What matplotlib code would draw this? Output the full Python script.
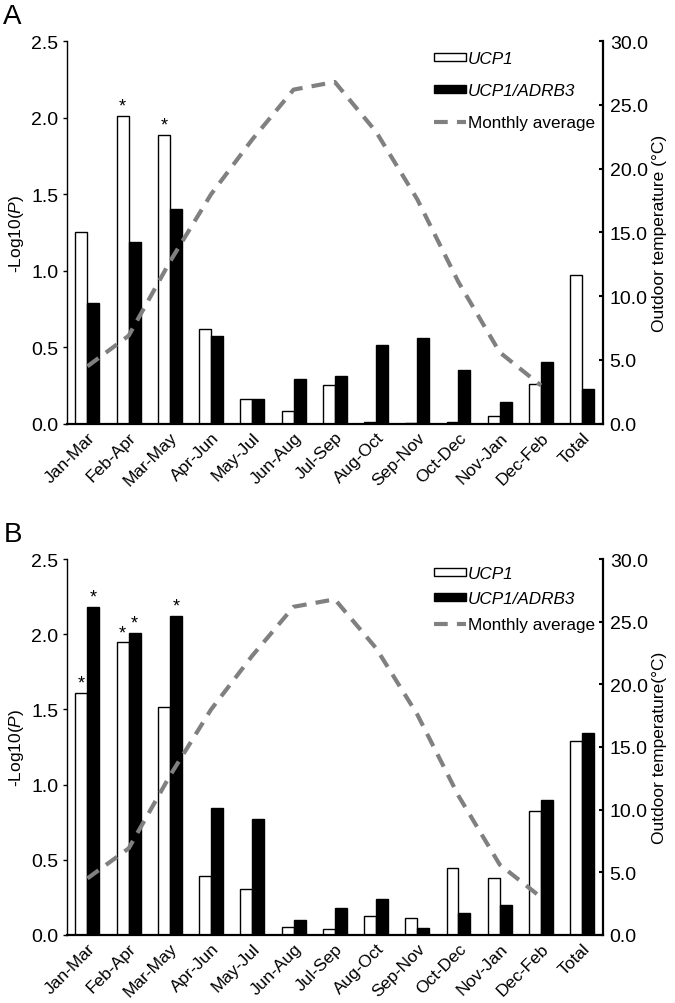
import matplotlib
matplotlib.use("Agg")
import matplotlib.pyplot as plt
import matplotlib.transforms as mtransforms
from matplotlib.patches import Rectangle
from matplotlib.lines import Line2D
import numpy as np

plt.rcParams['font.family'] = ['Liberation Sans', 'DejaVu Sans']
plt.rcParams['mathtext.fontset'] = 'custom'
plt.rcParams['mathtext.rm'] = 'Liberation Sans'
plt.rcParams['mathtext.it'] = 'Liberation Sans:italic'

categories = ["Jan-Mar", "Feb-Apr", "Mar-May", "Apr-Jun", "May-Jul", "Jun-Aug",
              "Jul-Sep", "Aug-Oct", "Sep-Nov", "Oct-Dec", "Nov-Jan", "Dec-Feb", "Total"]

# monthly average outdoor temperature (no value for "Total")
temperature = [4.5, 6.9, 12.7, 18.0, 22.3, 26.2, 26.8, 22.9, 17.6, 11.1, 5.6, 3.0]

# panel A
ucp1_a = [1.25, 2.01, 1.89, 0.62, 0.16, 0.083, 0.25, 0.01, 0.003, 0.01, 0.048, 0.26, 0.97]
ratio_a = [0.79, 1.19, 1.40, 0.57, 0.16, 0.29, 0.31, 0.515, 0.563, 0.35, 0.143, 0.40, 0.224]
star_ucp1_a = [1, 2]
star_ratio_a = []

# panel B
ucp1_b = [1.61, 1.946, 1.518, 0.39, 0.306, 0.05, 0.035, 0.128, 0.11, 0.445, 0.381, 0.824, 1.292]
ratio_b = [2.18, 2.008, 2.12, 0.844, 0.771, 0.098, 0.18, 0.237, 0.047, 0.142, 0.20, 0.90, 1.345]
star_ucp1_b = [0, 1]
star_ratio_b = [0, 1, 2]

left_ticks = [0.0, 0.5, 1.0, 1.5, 2.0, 2.5]
right_ticks = [0.0, 5.0, 10.0, 15.0, 20.0, 25.0, 30.0]

fig = plt.figure(figsize=(6.75, 10.04), dpi=100)


def draw_panel(rect, letter, ucp1, ratio, star_u, star_r, right_label, legend_spacing, legend_top):
    ax = fig.add_axes(rect)
    x = np.arange(len(categories))
    w = 0.29
    ax.bar(x - w / 2, ucp1, w, color='white', edgecolor='black', linewidth=1.0)
    ax.bar(x + w / 2, ratio, w, color='black', edgecolor='black', linewidth=1.0)

    for i in star_u:
        ax.annotate("*", (x[i] - w / 2, ucp1[i]), xytext=(0, 1), textcoords='offset points',
                    ha='center', va='bottom', fontsize=13)
    for i in star_r:
        ax.annotate("*", (x[i] + w / 2, ratio[i]), xytext=(0, 1), textcoords='offset points',
                    ha='center', va='bottom', fontsize=13)

    ax.set_xlim(-0.5, len(categories) - 0.5)
    ax.set_ylim(0, 2.5)
    ax.set_yticks(left_ticks)
    ax.set_yticklabels([f"{t:.1f}" for t in left_ticks], fontsize=14)
    ax.set_xticks(x)
    ax.set_xticklabels(categories, rotation=45, ha='right', va='top',
                       rotation_mode='anchor', fontsize=12.5)
    offset = mtransforms.ScaledTranslation(6 / 72, 0, fig.dpi_scale_trans)
    for lab in ax.get_xticklabels():
        lab.set_transform(lab.get_transform() + offset)
    ax.tick_params(axis='x', length=0, pad=4)
    ax.tick_params(axis='y', length=3, width=1, direction='out', pad=3)
    ax.spines['top'].set_visible(False)
    ax.spines['right'].set_visible(False)
    ax.spines['left'].set_linewidth(1.0)
    ax.spines['bottom'].set_linewidth(1.6)
    ax.set_ylabel("-Log10($\\it{P}$)", fontsize=12.5, labelpad=4)

    ax2 = ax.twinx()
    ax2.plot(x[:len(temperature)], temperature, color='#808080', linewidth=3,
             dashes=(3.3, 2.2))
    ax2.set_ylim(0, 30)
    ax2.set_yticks(right_ticks)
    ax2.set_yticklabels([f"{t:.1f}" for t in right_ticks], fontsize=14)
    ax2.tick_params(axis='y', length=3, width=1.5, direction='in', pad=5)
    ax2.spines['top'].set_visible(False)
    ax2.spines['left'].set_visible(False)
    ax2.spines['bottom'].set_visible(False)
    ax2.spines['right'].set_linewidth(1.6)
    ax2.set_ylabel(right_label, fontsize=12.5, labelpad=3)

    handles = [Rectangle((0, 0), 1, 1, facecolor='white', edgecolor='black', linewidth=1.0),
               Rectangle((0, 0), 1, 1, facecolor='black', edgecolor='black', linewidth=1.0),
               Line2D([], [], color='#808080', linewidth=3, dashes=(3.3, 2.2))]
    labels = ["UCP1", "UCP1/ADRB3", "Monthly average"]
    leg = ax2.legend(handles, labels, loc='upper right', bbox_to_anchor=(1.005, legend_top),
                     frameon=False, fontsize=12.3, handlelength=1.85, handleheight=0.35,
                     handletextpad=0.15, labelspacing=legend_spacing, borderaxespad=0.2)
    leg.get_texts()[0].set_fontstyle('italic')
    leg.get_texts()[1].set_fontstyle('italic')

    fig.text(0.005, rect[1] + rect[3] + 0.012, letter, fontsize=20, ha='left', va='bottom')
    return ax, ax2


draw_panel([0.099, 0.577, 0.794, 0.381], "A", ucp1_a, ratio_a, star_ucp1_a, star_ratio_a,
           "Outdoor temperature (°C)", 0.98, 1.0)
draw_panel([0.099, 0.068, 0.794, 0.374], "B", ucp1_b, ratio_b, star_ucp1_b, star_ratio_b,
           "Outdoor temperature(°C)", 0.62, 1.01)

fig.savefig("out.png", dpi=100)
